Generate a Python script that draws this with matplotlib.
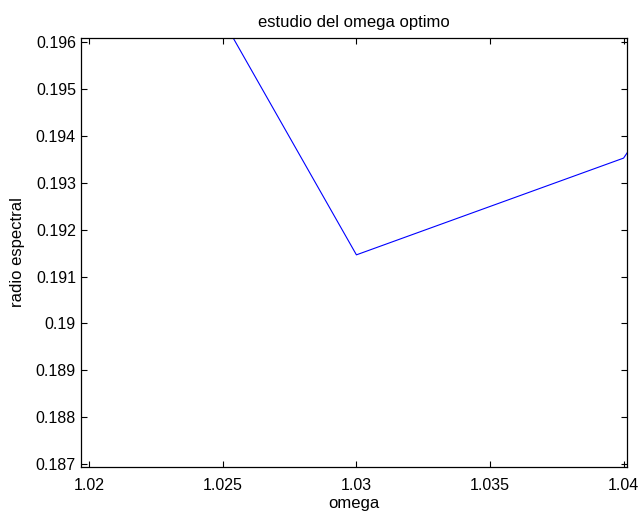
import matplotlib
matplotlib.use("Agg")
import matplotlib.pyplot as plt
import numpy as np

# valores de omega y radio espectral
omega = [1.02, 1.03, 1.04, 1.05]
radio = [0.2015, 0.191465, 0.19353, 0.2020]

y_ticks = [0.187, 0.188, 0.189, 0.19, 0.191, 0.192, 0.193, 0.194, 0.195, 0.196]
x_ticks = [1.02, 1.025, 1.03, 1.035, 1.04]

plt.rcParams['font.family'] = ['Liberation Sans', 'DejaVu Sans']
plt.rcParams['font.size'] = 11

fig = plt.figure(figsize=(6.4, 5.13), dpi=100)
ax = fig.add_axes([0.1261, 0.0891, 0.9802 - 0.1261, 0.9265 - 0.0891])

ax.plot(omega, radio, color='#0000ff', linewidth=0.8)

ax.set_xlim(1.01968, 1.04014)
ax.set_ylim(0.18693, 0.1961)
ax.set_xticks(x_ticks)
ax.set_xticklabels([f"{v:g}" for v in x_ticks])
ax.set_yticks(y_ticks)
ax.set_yticklabels([f"{v:g}" for v in y_ticks])

ax.tick_params(direction='in', length=4, width=0.8, top=True, right=True, labelsize=11.5)
ax.tick_params(axis='x', pad=7.5)
ax.tick_params(axis='y', pad=3.4)
for s in ax.spines.values():
    s.set_linewidth(0.9)

ax.set_title('estudio del omega optimo', fontsize=12, pad=7.5)
ax.set_xlabel('omega', fontsize=12, labelpad=2.5)
ax.set_ylabel('radio espectral', fontsize=12, labelpad=8)

fig.savefig('out.png', dpi=100)
